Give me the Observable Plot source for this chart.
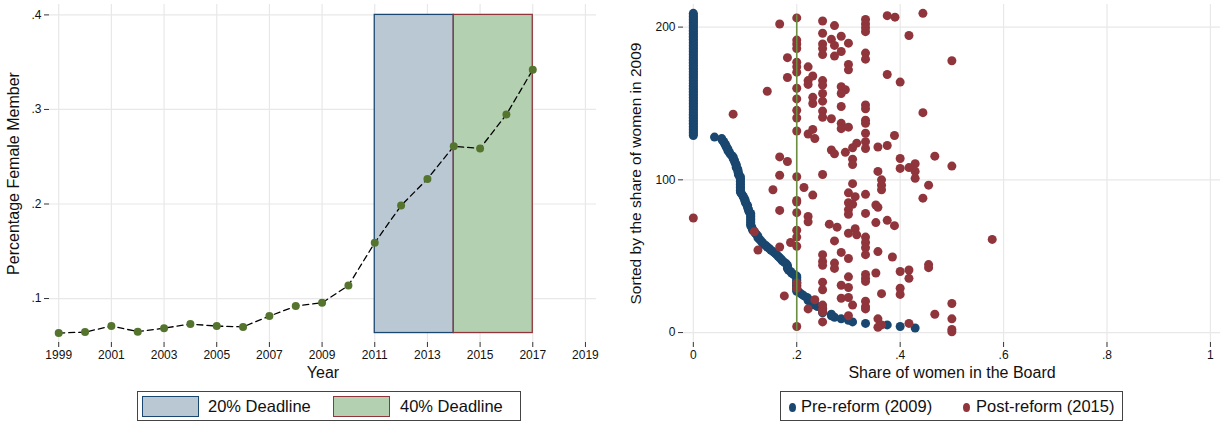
<!DOCTYPE html>
<html><head><meta charset="utf-8">
<script src="https://cdn.jsdelivr.net/npm/d3@7"></script>
<script src="https://cdn.jsdelivr.net/npm/@observablehq/plot@0.6"></script>
<style>
body{margin:0;background:#fff;font-family:"Liberation Sans",Arial,sans-serif;}
#wrap{position:relative;width:1225px;height:423px;overflow:hidden;background:#fff;}
#left{position:absolute;left:0;top:0;}
#right{position:absolute;left:600px;top:0;}
.legend{position:absolute;top:391px;height:30px;border:1px solid #444;box-sizing:border-box;font-size:16.5px;color:#111;}
.legend span{position:absolute;top:5px;white-space:nowrap;}
.sw{position:absolute;top:4px;width:57px;height:21px;box-sizing:border-box;border:1.5px solid;}
.dotk{position:absolute;top:11px;width:7px;height:9px;border-radius:50%;}
</style></head>
<body><div id="wrap">
<div id="left"></div><div id="right"></div>
<div class="legend" id="legL" style="left:137px;width:384px;">
  <div class="sw" style="left:4px;background:#bac8d3;border-color:#1a476f"></div><span style="left:70px">20% Deadline</span>
  <div class="sw" style="left:195px;background:#b3d0b1;border-color:#90353b"></div><span style="left:262px">40% Deadline</span>
</div>
<div class="legend" id="legR" style="left:780px;width:343px;">
  <div class="dotk" style="left:8px;background:#1a476f"></div><span style="left:20px">Pre-reform (2009)</span>
  <div class="dotk" style="left:182px;background:#90353b"></div><span style="left:195px">Post-reform (2015)</span>
</div>
</div>
<script>
// ---------- Left panel data ----------
const years = [1999,2000,2001,2002,2003,2004,2005,2006,2007,2008,2009,2010,2011,2012,2013,2014,2015,2016,2017];
const femaleShare = [0.0635,0.0645,0.0709,0.065,0.0687,0.073,0.0709,0.070,0.0814,0.092,0.0955,0.1138,0.159,0.1983,0.2265,0.261,0.2588,0.2947,0.342];
const deadlineLabels = ["20% Deadline","40% Deadline"];
const deadlineStart = [2011,2014];
const deadlineEnd = [2014,2017];
const deadlineTop = 0.4;
const yearTicks = [1999,2001,2003,2005,2007,2009,2011,2013,2015,2017,2019];
const leftYTicks = [0.1,0.2,0.3,0.4];

// ---------- Right panel data ----------
// share of women in 2009, firms sorted (rank = index + 3)
const preShare = [
 .429,.4,.375,.333,.308,.3,.286,.273,.267,.267,
 .25,.25,.25,.25,.24,.235,.231,.227,.222,.222,
 .22,.214,.21,.206,.2,.2,.2,.2,.2,.2,
 .2,.2,.2,.2,.2,.194,.19,.188,.184,.182,
 .182,.182,.18,.176,.172,.17,.167,.164,.161,.158,
 .154,.15,.147,.143,.14,.136,.133,.131,.128,.125,
 .125,.123,.12,.118,.115,.114,.113,.111,.111,.111,
 .111,.111,.111,.111,.111,.111,.108,.107,.106,.105,
 .105,.103,.101,.1,.1,.098,.097,.095,.093,.091,
 .091,.091,.091,.091,.091,.091,.091,.091,.091,.091,
 .088,.087,.087,.086,.086,.083,.083,.083,.081,.08,
 .079,.077,.077,.074,.071,.07,.067,.067,.065,.063,
 .0625,.06,.059,.056,.055,.041,
 0,0,0,0,0,0,0,0,0,0, 0,0,0,0,0,0,0,0,0,0,
 0,0,0,0,0,0,0,0,0,0, 0,0,0,0,0,0,0,0,0,0,
 0,0,0,0,0,0,0,0,0,0, 0,0,0,0,0,0,0,0,0,0,
 0,0,0,0,0,0,0,0,0,0, 0,0,0,0,0,0,0,0,0,0,
 0
];
const preRankStart = 3;
// [share of women in 2015, rank]
const postReform = [
 [.167,202],[.2,206],[.25,204],[.273,201],[.333,205],[.333,202],[.333,199.5],[.333,197],[.375,207.5],[.39,206.5],
 [.444,209],[.25,196],[.286,194],[.267,192],[.3,189.5],[.25,189],[.25,186],[.25,182],[.273,188],[.2,191.5],
 [.2,189],[.2,186],[.286,184],[.273,181],[.333,183],[.333,179],[.417,194.5],[.182,180],[.2,177],[.2,174],
 [.2,170.5],[.222,174],[.3,175.5],[.3,172],[.5,178],[.375,169],[.4,164],[.182,167],[.231,168],[.222,165],
 [.222,162.5],[.25,165],[.25,162],[.2,160],[.286,161],[.294,159],[.143,158],
 [.2,153],[.2,145.5],[.2,140.5],[.2,132],[.231,154],[.231,150],[.25,156.5],[.25,151.5],[.25,145],[.25,141],
 [.286,156.5],[.286,148],[.267,140],[.286,137],[.286,133.5],[.3,134.5],[.333,149],[.333,146.5],[.333,139],[.333,137],
 [.333,130.5],[.333,125],[.333,120.5],[.444,144],[.222,130],[.231,133],[.235,127],[.389,129],[.077,143],[.357,121.5],
 [.375,122.5],[.316,124],[.308,121],[.267,119.5],[.273,117],[.294,118],[.308,113.5],[.308,110],[.167,115],[.182,112],
 [.4,114],[.4,107.5],[.429,110.5],[.417,108],[.429,105.5],[.467,115.5],[.5,109],[.357,105.5],
 [.167,103],[.2,102],[.25,103.5],[.429,101],[.308,97.5],[.364,100],[.364,96.5],[.364,93.5],[.455,96.5],[.154,93.5],
 [.214,95],[.231,90],[.3,91.5],[.313,89],[.333,90.5],[.444,88],[.2,86.5],[.2,85.5],[.3,85],[.308,84],
 [.353,83.5],[.357,82],[.167,80],[.2,78.5],[.3,80.5],[.3,77.5],[.333,78],[.222,76],[.222,72.5],[0,75],
 [.263,71],[.278,69],[.353,72],[.375,73.5],[.389,70],[.2,67],[.2,62.5],[.2,56.5],[.118,66],[.3,65],
 [.313,68],[.316,64],[.333,62.5],[.333,59],[.333,55.5],[.333,51],[.273,60],[.188,59],[.125,54],[.167,56],
 [.286,52.5],[.357,53],[.385,49.5],[.25,51],[.3,48.5],
 [.25,46.5],[.25,44],[.273,45.5],[.273,42],[.3,36.5],[.333,38],[.333,35.5],[.333,33.5],[.353,39],[.4,40],
 [.417,41],[.417,35.5],[.455,44.5],[.455,42.5],[.25,33],[.25,28],[.286,31],[.3,29.5],[.2,32.5],[.2,29],
 [.176,24],[.286,22.5],[.3,23],[.235,21.5],[.333,20.5],[.333,17],[.333,15.5],[.308,18],[.364,25.5],[.4,29],
 [.4,25],[.25,18],[.25,15],[.25,13.5],[.222,15.5],[.3,11],[.467,12],[.5,19],[.5,9],[.5,2],
 [.5,0.5],[.25,7],[.357,9],[.357,3.5],[.364,5],[.417,6],[.2,4],[.578,61]
];
const quotaShare = 0.2;
const quotaRankRange = [1,208];
const rightXTicks = [0,0.2,0.4,0.6,0.8,1];
const rightYTicks = [0,100,200];

const navy = "#1a476f", maroon = "#90353b", green = "#55752f", gridC = "#e8e8e8";
const fmtDec = d => d === 0 ? "0" : String(d).replace(/^0/,"");
const font = "'Liberation Sans', Arial, sans-serif";

// ---------- Left chart ----------
const leftData = years.map((y,i)=>({year:y, share:femaleShare[i]}));
const bandBottom = d3.min(femaleShare);
const bands = deadlineLabels.map((l,i)=>({label:l, x1:deadlineStart[i], x2:deadlineEnd[i]}));
const left = Plot.plot({
  width: 600, height: 385,
  marginLeft: 49, marginRight: 4, marginTop: 4, marginBottom: 43,
  style: {fontFamily: font, fontSize: "12px", color: "#111", background: "transparent"},
  x: {domain: [1998.65, 2019.42]},
  y: {domain: [0.0535, 0.411]},
  marks: [
    Plot.gridX(yearTicks, {stroke: gridC, strokeOpacity: 1, strokeWidth: 1.2}),
    Plot.gridY(leftYTicks, {stroke: gridC, strokeOpacity: 1, strokeWidth: 1.2}),
    Plot.rect(bands, {x1:"x1", x2:"x2", y1: bandBottom, y2: deadlineTop,
      fill: d => d.label === deadlineLabels[0] ? "#bac8d3" : "#b3d0b1",
      stroke: d => d.label === deadlineLabels[0] ? navy : maroon, strokeWidth: 1.3}),
    Plot.line(leftData, {x:"year", y:"share", stroke:"#000", strokeWidth:1.3, strokeDasharray:"6,4"}),
    Plot.dot(leftData, {x:"year", y:"share", r:4, fill: green, stroke: "none"}),
    Plot.axisX(yearTicks, {tickFormat: d=>String(d), tickSize:5, tickPadding:3, fontSize: 12,
      label: "Year", labelAnchor:"center", labelArrow:"none", labelOffset: 35, line: true, stroke:"#333"}),
    Plot.axisY(leftYTicks, {tickFormat: fmtDec, tickSize:5, tickPadding:3, fontSize: 12,
      label: "Percentage Female Member", labelAnchor:"center", labelArrow:"none", labelOffset: 42, line:true, stroke:"#333"})
  ]
});
document.getElementById("left").appendChild(left);

// ---------- Right chart ----------
const pre = preShare.map((s,i)=>({share:s, rank:i+preRankStart}));
const post = postReform.map(([s,r])=>({share:s, rank:r}));
const right = Plot.plot({
  width: 625, height: 385,
  marginLeft: 83, marginRight: 5, marginTop: 4, marginBottom: 43,
  style: {fontFamily: font, fontSize: "12px", color: "#111", background: "transparent"},
  x: {domain: [-0.019, 1.0195]},
  y: {domain: [-6.5, 214.8]},
  marks: [
    Plot.gridX(rightXTicks, {stroke: gridC, strokeOpacity: 1, strokeWidth: 1.2}),
    Plot.gridY(rightYTicks, {stroke: gridC, strokeOpacity: 1, strokeWidth: 1.2}),
    Plot.dot(pre, {x:"share", y:"rank", r:4.5, fill: navy, stroke:"none"}),
    Plot.dot(post, {x:"share", y:"rank", r:4.5, fill: maroon, stroke:"none"}),
    Plot.ruleX([quotaShare], {y1: quotaRankRange[0], y2: quotaRankRange[1], stroke: "#6b8f3e", strokeWidth: 1.6}),
    Plot.axisX(rightXTicks, {tickFormat: fmtDec, tickSize:5, tickPadding:3, fontSize: 12,
      label: "Share of women in the Board", labelAnchor:"center", labelArrow:"none", labelOffset: 35, line: true, stroke:"#333"}),
    Plot.axisY(rightYTicks, {tickFormat: d=>String(d), tickSize:5, tickPadding:3, fontSize: 12,
      label: "Sorted by the share of women in 2009", labelAnchor:"center", labelArrow:"none", labelOffset: 54, line:true, stroke:"#333"})
  ]
});
document.getElementById("right").appendChild(right);

// axis title font sizes
const titleSizes = {"Year":"16px","Percentage Female Member":"16px","Share of women in the Board":"16px","Sorted by the share of women in 2009":"15.5px"};
for (const svg of [left, right]) {
  svg.querySelectorAll("text").forEach(t=>{
    const s = titleSizes[t.textContent.trim()];
    if (s) t.style.fontSize = s;
  });
}
</script>
</body></html>
